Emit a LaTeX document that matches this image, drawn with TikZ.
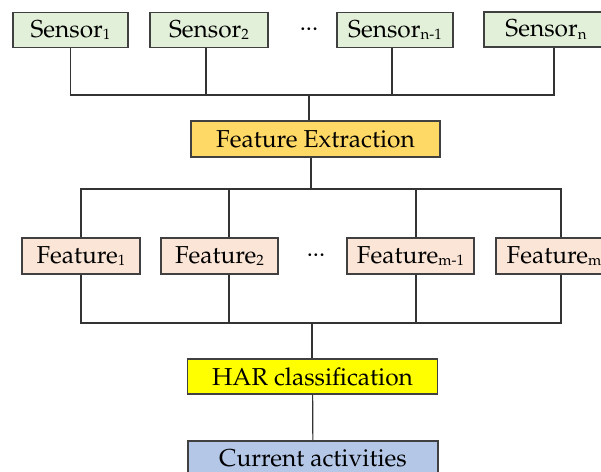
\documentclass[tikz,border=0pt]{standalone}
\usepackage[T1]{fontenc}
\usepackage{mathpazo}
\usepackage{tikz}
\usetikzlibrary{calc}

\definecolor{sensorfill}{HTML}{E2F0D9}
\definecolor{featurefill}{HTML}{FBE5D6}
\definecolor{extractfill}{HTML}{FFD966}
\definecolor{harfill}{HTML}{FFFF00}
\definecolor{currentfill}{HTML}{B4C7E7}

\newcommand{\idx}[1]{\raisebox{-0.25ex}{\fontsize{7.5}{8}\selectfont #1}}

\begin{document}
\begin{tikzpicture}[x=0.5pt, y=-0.5pt,
    box/.style={draw=black!75, line width=0.6pt, inner sep=0pt, font=\fontsize{12.25}{14}\selectfont},
    sensor/.style={box, fill=sensorfill, minimum height=17.5pt},
    feature/.style={box, fill=featurefill, minimum height=18pt},
    stage/.style={box, minimum width=125pt, minimum height=18pt},
    link/.style={draw=black!80, line width=0.6pt}]
    \useasboundingbox (0,0) rectangle (601,472);

    \node[sensor, minimum width=57.5pt] (s1) at (70.5,30) {Sensor\idx{1}};
    
    \node[sensor, minimum width=59pt] (s2) at (209,30) {Sensor\idx{2}};
    
    \node[font=\fontsize{12.25}{14}\selectfont] (sdots) at (309,29) {...};
    
    \node[sensor, minimum width=58pt] (sm) at (395,30) {Sensor\idx{n-1}};
    
    \node[sensor, minimum width=62pt] (sn) at (546,29.5) {Sensor\idx{n}};
    
    \node[stage, fill=extractfill, minimum width=124.5pt] (fe) at (315.5,139) {Feature Extraction};
    
    \node[feature, minimum width=59pt] (f1) at (81,256) {Feature\idx{1}};
    
    \node[feature, minimum width=58.5pt] (f2) at (219.5,256) {Feature\idx{2}};
    
    \node[font=\fontsize{12.25}{14}\selectfont] (fdots) at (316,255) {...};
    
    \node[feature, minimum width=63.5pt] (fm) at (410.5,256) {Feature\idx{m-1}};
    
    \node[feature, minimum width=58pt] (fl) at (554,256) {Feature\idx{m}};
    
    \node[stage, fill=harfill, minimum height=17.5pt] (har) at (312.5,376.5) {HAR classification};
    
    \node[stage, fill=currentfill, minimum height=17.5pt] (cur) at (313,458.5) {Current activities};
    
    \coordinate (bus1) at (309,95);
    \coordinate (bus2) at (311,189);
    \coordinate (bus3) at (312,323);
    
    % sensors -> feature extraction
    \draw[link] (s1.south) |- (bus1);
    \draw[link] ([xshift=-1.5pt]s2.south) |- (bus1);
    \draw[link] ([xshift=-1.5pt]sm.south) |- (bus1);
    \draw[link] ([xshift=4pt]sn.south) |- (bus1);
    \draw[link] (bus1) -- (bus1 |- fe.north);
    
    % feature extraction -> features
    \draw[link] (fe.south -| bus2) -- (bus2);
    \draw[link] (bus2) -| (f1.north);
    \draw[link] (bus2) -| ([xshift=4.75pt]f2.north);
    \draw[link] (bus2) -| ([xshift=2.75pt]fm.north);
    \draw[link] (bus2) -| ([xshift=3.5pt]fl.north);
    
    % features -> classification
    \draw[link] (f1.south) |- (bus3);
    \draw[link] ([xshift=4.75pt]f2.south) |- (bus3);
    \draw[link] ([xshift=2.75pt]fm.south) |- (bus3);
    \draw[link] ([xshift=3.5pt]fl.south) |- (bus3);
    \draw[link] (bus3) -- (bus3 |- har.north);
    \draw[link] (har) -- (cur);
    
\end{tikzpicture}
\end{document}
